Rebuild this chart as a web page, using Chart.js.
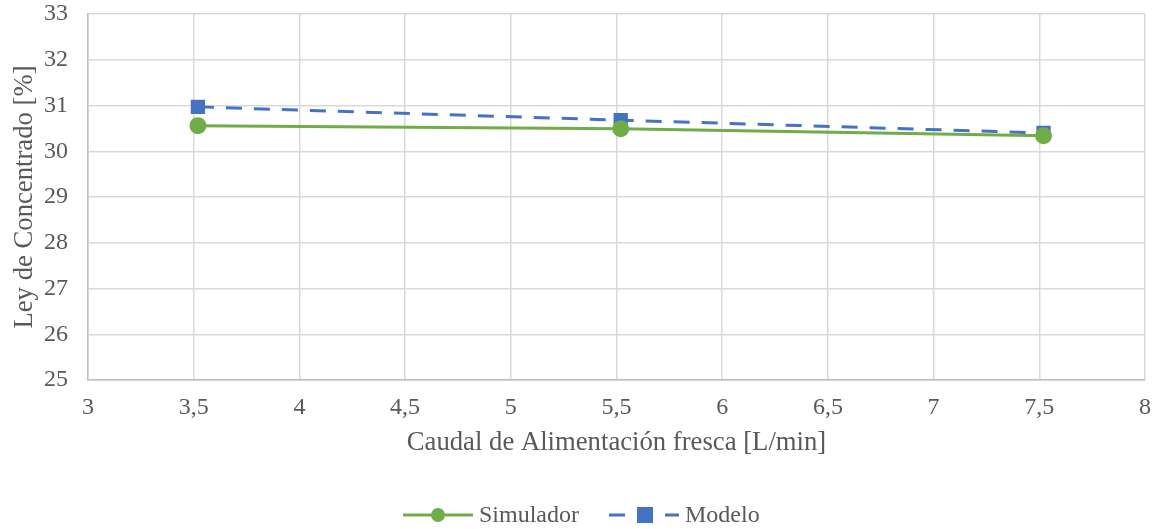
<!DOCTYPE html>
<html>
<head>
<meta charset="utf-8">
<script src="https://cdn.jsdelivr.net/npm/chart.js@4"></script>
<style>
  html, body { margin: 0; padding: 0; background: #fff; }
  #wrap { width: 1160px; height: 529px; }
</style>
</head>
<body>
<div id="wrap"><canvas id="grafico" width="1160" height="529"></canvas></div>
<script>
// caudal de alimentación [L/min]
var caudal = [3.52, 5.52, 7.52];
var simulador = [30.56, 30.49, 30.34];
var modelo = [30.97, 30.68, 30.40];
var nombres = ['Simulador', 'Modelo'];

var verde = '#70AD47';
var azul = '#4472C4';
var gris = '#595959';
var fuente = '"Liberation Serif", "Times New Roman", serif';

function puntos(xs, ys){
    return xs.map((x, i) => ({x: x, y: ys[i]}));
}

// leyenda estilo Excel: línea con marcador
var leyenda = {
    id: 'leyenda',
    afterDraw(chart){
        var ctx = chart.ctx;
        var y = 515;
        var items = [
            {txt: nombres[0], color: verde, dash: [], forma: 'circle', x0: 403},
            {txt: nombres[1], color: azul, dash: [16, 12], forma: 'rect', x0: 609}
        ];
        ctx.save();
        ctx.font = '24px ' + fuente;
        ctx.textBaseline = 'middle';
        items.forEach(it => {
            ctx.strokeStyle = it.color;
            ctx.lineWidth = 3;
            ctx.setLineDash(it.dash);
            ctx.beginPath();
            ctx.moveTo(it.x0, y);
            ctx.lineTo(it.x0 + 70, y);
            ctx.stroke();
            ctx.setLineDash([]);
            ctx.fillStyle = it.color;
            if (it.forma == 'circle') {
                ctx.beginPath();
                ctx.arc(it.x0 + 35, y, 7, 0, Math.PI * 2);
                ctx.fill();
            } else {
                ctx.fillRect(it.x0 + 28, y - 8, 16, 16);
            }
            ctx.fillStyle = gris;
            ctx.fillText(it.txt, it.x0 + 76, y + 1);
        });
        ctx.restore();
    }
};

new Chart(document.getElementById('grafico'), {
    type: 'line',
    data: {
        datasets: [{
            label: nombres[0],
            data: puntos(caudal, simulador),
            borderColor: verde,
            backgroundColor: verde,
            borderWidth: 3,
            pointStyle: 'circle',
            pointRadius: 7,
            pointHoverRadius: 7,
            tension: 0
        }, {
            label: nombres[1],
            data: puntos(caudal, modelo),
            borderColor: azul,
            backgroundColor: azul,
            borderWidth: 3,
            borderDash: [16, 12],
            pointStyle: 'rect',
            pointRadius: 8,
            pointHoverRadius: 8,
            tension: 0
        }]
    },
    options: {
        responsive: false,
        animation: false,
        layout: {padding: {top: 14, right: 15, bottom: 64, left: 6}},
        plugins: {
            legend: {display: false},
            tooltip: {enabled: false}
        },
        scales: {
            x: {
                type: 'linear',
                min: 3, max: 8,
                afterFit: s => { s.height = 85; s.paddingLeft = 0; s.paddingRight = 0; },
                ticks: {
                    stepSize: 0.5,
                    color: gris,
                    font: {family: fuente, size: 24},
                    padding: 13,
                    maxRotation: 0,
                    callback: v => String(v).replace('.', ',')
                },
                grid: {color: '#d9d9d9', lineWidth: 1.5, drawTicks: false},
                border: {color: '#bfbfbf', width: 1.5},
                title: {
                    display: true,
                    text: 'Caudal de Alimentación fresca [L/min]',
                    color: gris,
                    font: {family: fuente, size: 26.7},
                    padding: {top: 4, bottom: 6}
                }
            },
            y: {
                min: 25, max: 33,
                afterFit: s => { s.width = 82; s.paddingTop = 0; s.paddingBottom = 0; },
                ticks: {
                    stepSize: 1,
                    color: gris,
                    font: {family: fuente, size: 24},
                    padding: 20
                },
                grid: {color: '#d9d9d9', lineWidth: 1.5, drawTicks: false},
                border: {color: '#bfbfbf', width: 1.5},
                title: {
                    display: true,
                    text: 'Ley de Concentrado [%]',
                    color: gris,
                    font: {family: fuente, size: 26.7},
                    padding: {top: 3, bottom: 8}
                }
            }
        }
    },
    plugins: [leyenda]
});
</script>
</body>
</html>
